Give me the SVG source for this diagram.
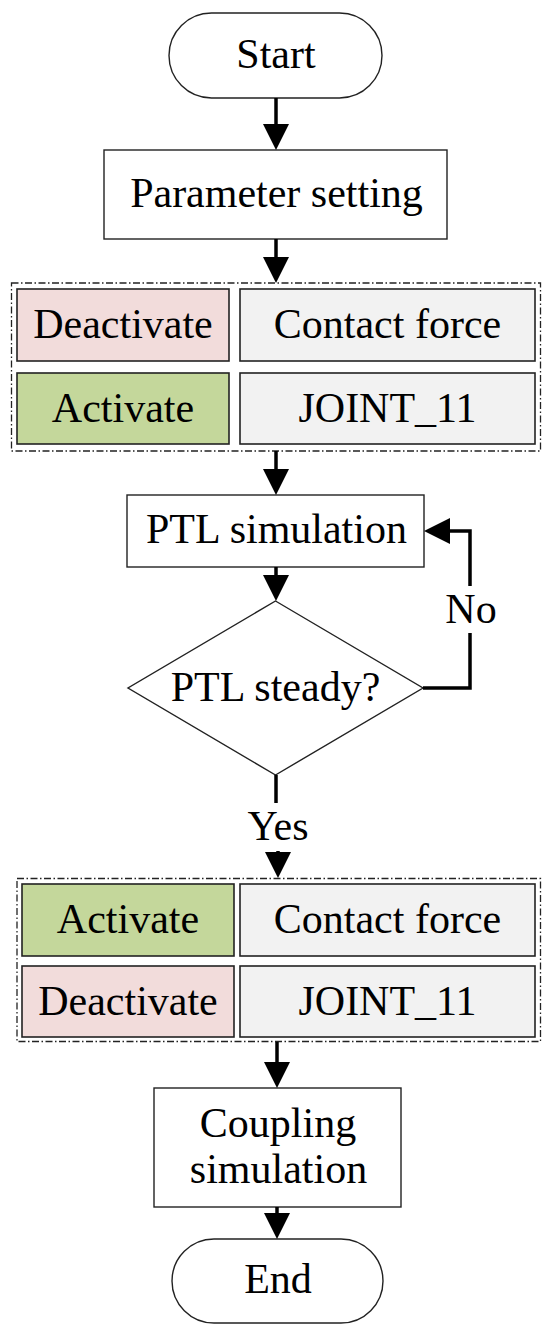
<svg xmlns="http://www.w3.org/2000/svg" width="550" height="1333" viewBox="0 0 550 1333">
<style>
text{font-family:"Liberation Serif","Times New Roman",serif;font-size:42px;fill:#000;text-anchor:middle}
.box{fill:#fff;stroke:#222;stroke-width:1.4}
.cell{stroke:#222;stroke-width:1.6}
.pink{fill:#f2dcdb}.green{fill:#c4d79b}.gray{fill:#f2f2f2}
.group{fill:none;stroke:#222;stroke-width:1.3;stroke-dasharray:7 2.5 1.5 2.5}
.conn{fill:none;stroke:#000;stroke-width:3.5}
</style>
<defs>
<marker id="arr" markerUnits="userSpaceOnUse" markerWidth="26" markerHeight="26" refX="16" refY="13" orient="auto">
<path d="M0,0 L26,13 L0,26 z" fill="#000"/>
</marker>
</defs>
<g id="start"><rect class="box" x="169" y="13" width="213" height="85" rx="42.5"/><text x="276" y="68">Start</text></g>
<g id="param"><rect class="box" x="104" y="150" width="343" height="89"/><text x="276.5" y="207">Parameter setting</text></g>
<g id="group1">
<rect class="group" x="11.5" y="283" width="529" height="168"/>
<g id="deactivate1"><rect class="cell pink" x="17" y="289" width="212" height="72"/><text x="123" y="338">Deactivate</text></g>
<g id="contact1"><rect class="cell gray" x="240" y="289" width="295" height="72"/><text x="387.5" y="338">Contact force</text></g>
<g id="activate1"><rect class="cell green" x="17" y="373" width="212" height="71"/><text x="123" y="422">Activate</text></g>
<g id="joint1"><rect class="cell gray" x="240" y="373" width="295" height="71"/><text x="387.5" y="422">JOINT_11</text></g>
</g>
<g id="ptl"><rect class="box" x="127" y="495" width="297" height="72"/><text x="276.5" y="543">PTL simulation</text></g>
<g id="steady"><polygon class="box" points="275.5,601 423,688 275.5,775 128,688"/><text x="275.5" y="701">PTL steady?</text></g>
<g id="group2">
<rect class="group" x="17" y="878.5" width="523.5" height="163"/>
<g id="activate2"><rect class="cell green" x="22" y="884" width="212" height="72"/><text x="128" y="933">Activate</text></g>
<g id="contact2"><rect class="cell gray" x="240" y="884" width="295" height="72"/><text x="387.5" y="933">Contact force</text></g>
<g id="deactivate2"><rect class="cell pink" x="22" y="966" width="212" height="71"/><text x="128" y="1015">Deactivate</text></g>
<g id="joint2"><rect class="cell gray" x="240" y="966" width="295" height="71"/><text x="387.5" y="1015">JOINT_11</text></g>
</g>
<g id="coupling"><rect class="box" x="154" y="1088" width="247" height="119"/><text x="278" y="1137">Coupling</text><text x="278.5" y="1183">simulation</text></g>
<g id="end"><rect class="box" x="172" y="1239" width="211" height="84" rx="42"/><text x="278" y="1293">End</text></g>
<g id="connectors">
<line class="conn" x1="276" y1="98" x2="276" y2="140" marker-end="url(#arr)"/>
<line class="conn" x1="276" y1="239" x2="276" y2="273" marker-end="url(#arr)"/>
<line class="conn" x1="276" y1="451" x2="276" y2="485" marker-end="url(#arr)"/>
<line class="conn" x1="276" y1="567" x2="276" y2="591" marker-end="url(#arr)"/>
<line class="conn" x1="276" y1="775" x2="276" y2="803"/>
<line class="conn" x1="278" y1="851" x2="278" y2="868" marker-end="url(#arr)"/>
<text x="278" y="840">Yes</text>
<polyline class="conn" points="423,688 470,688 470,633"/>
<polyline class="conn" points="470,586 470,531 434,531" marker-end="url(#arr)"/>
<text x="471" y="623">No</text>
<line class="conn" x1="277" y1="1042" x2="277" y2="1078" marker-end="url(#arr)"/>
<line class="conn" x1="277" y1="1207" x2="277" y2="1229" marker-end="url(#arr)"/>
</g>
</svg>
